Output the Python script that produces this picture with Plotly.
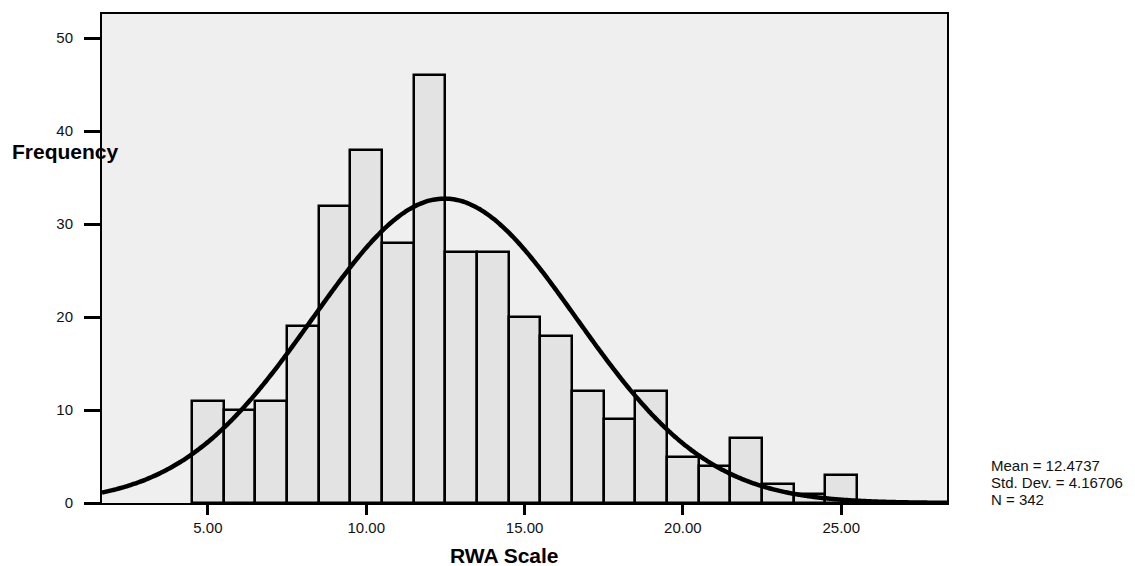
import numpy as np
import plotly.graph_objects as go

# Data
bin_centers = [5, 6, 7, 8, 9, 10, 11, 12, 13, 14, 15, 16, 17, 18, 19, 20, 21, 22, 23, 24, 25]
frequencies = [11, 10, 11, 19, 32, 38, 28, 46, 27, 27, 20, 18, 12, 9, 12, 5, 4, 7, 2, 1, 3]
x_tick_vals = [5, 10, 15, 20, 25]
x_tick_text = ["5.00", "10.00", "15.00", "20.00", "25.00"]
y_tick_vals = [0, 10, 20, 30, 40, 50]
stat_mean = 12.4737
stat_sd = 4.16706
stat_n = 342
bin_width = 1.0

X_RANGE = [1.657, 28.34]
Y_RANGE = [0, 52.6]

# page body has an 8px default margin; size the figure to fit the window
OFF = 8
W, H = 1135 - OFF, 566 - OFF
ML = 102 - OFF
MT = 12 - OFF
MR = W - (947 - OFF)
MB = H - (503 - OFF)
PW = W - ML - MR
PH = H - MT - MB

def px_x(px):
    return (px - OFF - ML) / PW

def px_y(py):
    return (H - MB - (py - OFF)) / PH

# fitted normal curve from reported statistics
xs = np.linspace(X_RANGE[0], X_RANGE[1], 400)
ys = stat_n * bin_width / (stat_sd * np.sqrt(2 * np.pi)) * np.exp(-0.5 * ((xs - stat_mean) / stat_sd) ** 2)

FONT = "Liberation Sans, Arial, sans-serif"

fig = go.Figure()
fig.add_trace(go.Bar(
    x=bin_centers, y=frequencies, width=bin_width,
    marker=dict(color="#e3e3e3", line=dict(color="black", width=2.5)),
    hoverinfo="x+y", showlegend=False,
))
fig.add_trace(go.Scatter(
    x=xs, y=ys, mode="lines",
    line=dict(color="black", width=4.5, shape="spline"),
    showlegend=False, hoverinfo="skip",
))

fig.update_layout(
    width=W, height=H,
    margin=dict(l=ML, r=MR, t=MT, b=MB),
    paper_bgcolor="white",
    plot_bgcolor="#efefef",
    font=dict(family=FONT, size=15, color="black"),
    bargap=0,
    xaxis=dict(
        range=X_RANGE, tickvals=x_tick_vals, ticktext=x_tick_text,
        ticks="outside", ticklen=10, tickwidth=3, tickcolor="black",
        showline=True, mirror=True, linecolor="black", linewidth=2,
        showgrid=False, zeroline=False,
        tickfont=dict(family=FONT, size=15, color="#111"),
    ),
    yaxis=dict(
        range=Y_RANGE, tickvals=y_tick_vals,
        ticks="outside", ticklen=16, tickwidth=3, tickcolor="black",
        ticklabelstandoff=8,
        showline=True, mirror=True, linecolor="black", linewidth=2,
        showgrid=False, zeroline=False,
        tickfont=dict(family=FONT, size=15, color="#111"),
    ),
    annotations=[
        dict(text="<b>Frequency</b>", xref="paper", yref="paper",
             x=px_x(10), y=px_y(150), xanchor="left", yanchor="middle",
             showarrow=False, font=dict(family=FONT, size=21, color="black")),
        dict(text="<b>RWA Scale</b>", xref="paper", yref="paper",
             x=px_x(504), y=px_y(556), xanchor="center", yanchor="middle",
             showarrow=False, font=dict(family=FONT, size=21, color="black")),
        dict(text="Mean = 12.4737", xref="paper", yref="paper",
             x=px_x(989), y=px_y(465), xanchor="left", yanchor="middle",
             showarrow=False, font=dict(family=FONT, size=15, color="#111")),
        dict(text="Std. Dev. = 4.16706", xref="paper", yref="paper",
             x=px_x(989), y=px_y(482), xanchor="left", yanchor="middle",
             showarrow=False, font=dict(family=FONT, size=15, color="#111")),
        dict(text="N = 342", xref="paper", yref="paper",
             x=px_x(989), y=px_y(499), xanchor="left", yanchor="middle",
             showarrow=False, font=dict(family=FONT, size=15, color="#111")),
    ],
)

fig.write_html("out.html")
